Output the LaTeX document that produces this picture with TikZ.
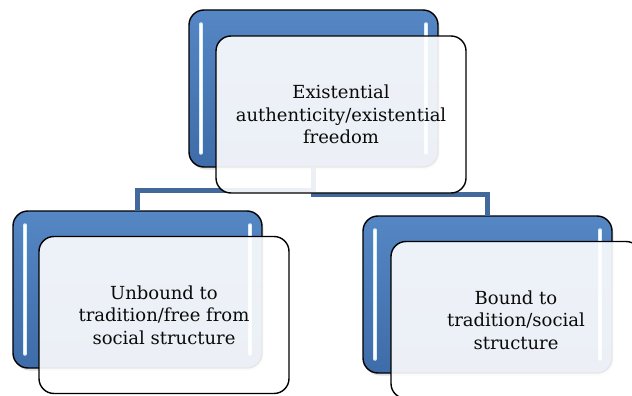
\documentclass[tikz,border=0pt]{standalone}
\usepackage{fontspec}
\setmainfont{DejaVu Serif}
\usetikzlibrary{calc,shadows}
\definecolor{boxtop}{HTML}{5587C4}
\definecolor{boxbot}{HTML}{3E6CA8}
\definecolor{linkblue}{HTML}{41699C}
\definecolor{glint}{HTML}{D6ECFF}
\definecolor{ink}{HTML}{0A0A0A}
\tikzset{
  backbox/.style={rectangle, rounded corners=15pt, draw=black, line width=1.4pt,
    top color=boxtop, bottom color=boxbot, minimum width=249pt, minimum height=157pt,
    inner sep=0pt, outer sep=0pt,
    drop shadow={opacity=0.25, shadow xshift=1.5pt, shadow yshift=-2.5pt}},
  frontbox/.style={rectangle, rounded corners=15pt, draw=black, line width=1.4pt,
    fill=white, fill opacity=0.9, text opacity=1, minimum width=250pt, minimum height=157pt,
    inner sep=0pt, outer sep=0pt, align=center, text=ink,
    font=\fontsize{18}{22.5}\selectfont},
  glintline/.style={glint, line width=3.5pt, line cap=round},
  glintcore/.style={white, line width=1.2pt, line cap=round},
  link/.style={linkblue, line width=5pt, line join=miter}
}
\newcommand{\boxglint}[1]{%
  \draw[glintline] ($(#1.north west)+(12,14)$) -- ($(#1.south west)+(12,-14)$);
  \draw[glintcore] ($(#1.north west)+(12,14)$) -- ($(#1.south west)+(12,-14)$);
  \draw[glintline] ($(#1.north east)+(-12,14)$) -- ($(#1.south east)+(-12,-14)$);
  \draw[glintcore] ($(#1.north east)+(-12,14)$) -- ($(#1.south east)+(-12,-14)$);
}
\begin{document}
\begin{tikzpicture}[x=1pt,y=-1pt]
  \useasboundingbox (0,0) rectangle (632,396);
  \clip (0,0) rectangle (632,396);
  \fill[white] (0,0) rectangle (632,396);

  % back panels
  \node[backbox] (tb) at (313.5,88.5) {};
  \node[backbox] (lb) at (137.5,289.5) {};
  \node[backbox] (rb) at (487.5,294.5) {};

  % hierarchy links
  \draw[link] (tb.south) -- ++(0,23.5) -| (lb.north);
  \draw[link] (tb.south) -- ++(0,27) -| (rb.north);

  \boxglint{tb}
  \boxglint{lb}
  \boxglint{rb}

  % front cards
  \node[frontbox] (tf) at (341,114.5) {Existential\\authenticity/existential\\freedom};
  \node[frontbox] (lf) at (164,315) {Unbound to\\tradition/free from\\social structure};
  \node[frontbox] (rf) at (516,320) {Bound to\\tradition/social\\structure};
\end{tikzpicture}
\end{document}
